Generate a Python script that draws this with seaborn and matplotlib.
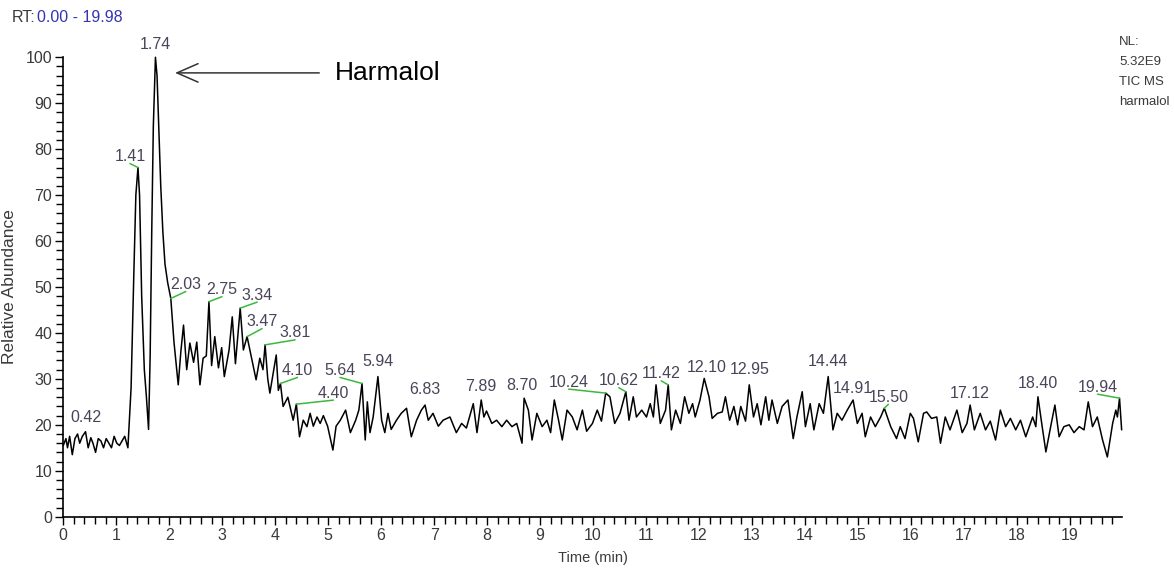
import numpy as np
import pandas as pd
import matplotlib
matplotlib.use("Agg")
import matplotlib.pyplot as plt
import seaborn as sns
from matplotlib.ticker import MultipleLocator

# chromatogram trace (time in min, relative abundance in %)
times = [
    0.00, 0.05, 0.08, 0.12, 0.17, 0.22, 0.27, 0.31, 0.36, 0.42, 0.47, 0.52, 0.56, 0.61,
    0.66, 0.71, 0.76, 0.81, 0.86, 0.91, 0.96, 1.01, 1.06, 1.11, 1.16, 1.22, 1.28, 1.33,
    1.37, 1.41, 1.44, 1.48, 1.53, 1.57, 1.61, 1.64, 1.67, 1.70, 1.74, 1.77, 1.80, 1.84,
    1.88, 1.92, 1.97, 2.03, 2.09, 2.17, 2.22, 2.27, 2.33, 2.39, 2.46, 2.52, 2.58, 2.64,
    2.70, 2.75, 2.80, 2.86, 2.93, 2.99, 3.04, 3.13, 3.19, 3.25, 3.30, 3.34, 3.40, 3.47,
    3.55, 3.64, 3.71, 3.77, 3.81, 3.86, 3.90, 3.96, 4.02, 4.06, 4.10, 4.15, 4.24, 4.34,
    4.40, 4.46, 4.53, 4.60, 4.66, 4.72, 4.79, 4.85, 4.91, 4.99, 5.09, 5.15, 5.23, 5.33,
    5.42, 5.52, 5.58, 5.64, 5.70, 5.74, 5.79, 5.85, 5.94, 6.01, 6.07, 6.13, 6.19, 6.29,
    6.38, 6.48, 6.57, 6.67, 6.76, 6.83, 6.89, 6.98, 7.08, 7.17, 7.30, 7.42, 7.52, 7.61,
    7.74, 7.81, 7.89, 7.94, 7.99, 8.09, 8.18, 8.28, 8.37, 8.47, 8.56, 8.66, 8.70, 8.78,
    8.85, 8.94, 9.04, 9.13, 9.20, 9.27, 9.35, 9.42, 9.51, 9.61, 9.70, 9.80, 9.88, 9.99,
    10.08, 10.16, 10.24, 10.32, 10.41, 10.51, 10.62, 10.68, 10.76, 10.82, 10.92, 11.01,
    11.08, 11.14, 11.19, 11.27, 11.37, 11.42, 11.48, 11.56, 11.65, 11.73, 11.81, 11.88,
    11.93, 12.02, 12.10, 12.19, 12.25, 12.35, 12.44, 12.50, 12.58, 12.66, 12.73, 12.79,
    12.88, 12.95, 13.03, 13.10, 13.17, 13.26, 13.32, 13.38, 13.48, 13.57, 13.68, 13.78,
    13.85, 13.95, 14.01, 14.10, 14.17, 14.27, 14.35, 14.44, 14.53, 14.61, 14.70, 14.80,
    14.91, 14.99, 15.08, 15.14, 15.24, 15.33, 15.43, 15.50, 15.62, 15.73, 15.80, 15.89,
    15.99, 16.05, 16.14, 16.24, 16.30, 16.39, 16.49, 16.56, 16.65, 16.74, 16.87, 16.97,
    17.06, 17.12, 17.20, 17.31, 17.41, 17.50, 17.60, 17.69, 17.79, 17.88, 17.98, 18.07,
    18.17, 18.30, 18.36, 18.40, 18.48, 18.55, 18.64, 18.72, 18.80, 18.89, 18.99, 19.08,
    19.18, 19.27, 19.35, 19.43, 19.52, 19.62, 19.71, 19.81, 19.87, 19.90, 19.94, 19.98,
]
abundance = [
    15.5, 17.0, 15.0, 17.5, 13.5, 17.0, 18.0, 16.0, 17.5, 18.5, 15.0, 17.2, 16.0, 14.0,
    17.0, 16.5, 15.0, 17.0, 16.0, 15.0, 17.5, 16.0, 15.5, 16.5, 17.5, 15.0, 28.0, 52.0,
    70.0, 76.0, 70.0, 48.0, 32.0, 26.0, 19.0, 35.0, 62.0, 85.0, 100.0, 96.0, 86.0, 72.0,
    62.0, 55.0, 51.0, 47.5, 38.0, 28.7, 36.0, 41.7, 32.0, 37.8, 33.6, 38.0, 28.7, 34.5,
    35.0, 46.8, 32.9, 39.2, 32.4, 36.8, 30.5, 36.3, 43.5, 33.3, 40.0, 45.4, 36.3, 39.2,
    34.8, 29.8, 34.5, 32.0, 37.4, 30.0, 26.9, 31.0, 35.2, 27.5, 29.0, 24.0, 26.0, 21.0,
    24.5, 17.4, 21.0, 19.6, 22.5, 19.7, 21.7, 20.3, 22.0, 19.7, 14.5, 19.7, 21.0, 23.2,
    18.3, 21.0, 23.2, 29.0, 16.7, 25.0, 18.3, 21.7, 30.5, 21.0, 18.3, 22.5, 19.0, 21.0,
    22.5, 23.6, 17.4, 21.0, 23.2, 24.3, 21.0, 22.5, 19.7, 21.0, 21.7, 18.3, 20.3, 19.3,
    24.6, 18.3, 25.4, 21.7, 23.0, 20.3, 21.0, 19.6, 21.0, 19.6, 20.3, 16.0, 25.8, 23.2,
    16.7, 22.5, 19.6, 21.0, 18.3, 25.4, 21.0, 16.7, 23.2, 21.7, 18.9, 23.2, 18.6, 20.3,
    23.2, 20.8, 26.9, 26.1, 20.3, 22.5, 27.2, 21.0, 26.1, 21.7, 23.2, 21.7,
    24.6, 21.7, 28.7, 20.3, 23.2, 28.7, 18.9, 23.2, 20.3, 26.1, 22.5, 24.6,
    21.7, 25.4, 30.1, 26.1, 21.4, 22.5, 22.8, 26.1, 21.0, 24.0, 20.0, 24.0,
    20.8, 28.7, 21.7, 24.6, 20.0, 26.1, 21.0, 25.4, 20.3, 24.0, 25.4, 17.0,
    21.7, 27.2, 19.6, 24.6, 18.9, 24.6, 22.5, 30.5, 18.9, 22.5, 21.0, 23.2,
    25.4, 20.3, 22.5, 17.4, 21.7, 19.6, 21.7, 23.6, 19.6, 17.0, 19.6, 17.0,
    22.5, 21.4, 16.3, 22.5, 22.8, 21.4, 21.7, 16.0, 21.7, 18.9, 23.2, 18.3,
    20.3, 24.3, 18.9, 22.5, 18.9, 20.8, 16.7, 23.2, 19.6, 21.4, 18.9, 21.0,
    17.4, 21.7, 19.6, 26.1, 19.6, 14.1, 19.6, 24.3, 17.4, 19.6, 20.0, 18.3,
    19.6, 18.9, 25.0, 19.6, 21.7, 16.7, 13.0, 20.3, 23.2, 21.7, 25.8, 18.9,
]

# labelled retention times
peak_rts = [0.42, 1.41, 1.74, 2.03, 2.75, 3.34, 3.47, 3.81, 4.10, 4.40, 5.64, 5.94,
            6.83, 7.89, 8.70, 10.24, 10.62, 11.42, 12.10, 12.95, 14.44, 14.91, 15.50,
            17.12, 18.40, 19.94]
peak_labels = [f"{rt:.2f}" for rt in peak_rts]

# label offsets from the apex (pixels) and whether a green leader line is drawn
label_dx = [0, -8, 0, 15, 13, 17, 15, 30, 17, 37, -22, 0, 0, 0, -2, -37, -7, -7, 2, 0, 0, 0, 4, 0, 0, -22]
label_dy = [14, 11, 13, 14, 12, 13, 15, 12, 13, 11, 13, 15, 16, 14, 13, 11, 11, 11, 11, 15, 15, 12, 11, 12, 13, 11]
has_line = [0, 1, 0, 1, 1, 1, 1, 1, 1, 1, 1, 0, 0, 0, 0, 1, 1, 1, 0, 0, 0, 0, 1, 0, 0, 1]

info_lines = ["NL:", "5.32E9", "TIC MS", "harmalol"]

df = pd.DataFrame({"time": times, "abundance": abundance})

sns.set_style("ticks")
plt.rcParams["font.family"] = ["Liberation Sans", "DejaVu Sans"]

TEXT = "#3a3a3a"
LABEL = "#4a4458"
GREEN = "#3cb83c"

fig = plt.figure(figsize=(11.74, 5.71), dpi=100)
ax = fig.add_axes([0.0539, 0.0951, 0.9015, 0.8046])

sns.lineplot(data=df, x="time", y="abundance", ax=ax, color="black",
             linewidth=1.1, estimator=None, sort=False)
for ln in ax.lines:
    ln.set_clip_on(False)

ax.set_xlim(0, 19.98)
ax.set_ylim(0, 100)
ax.xaxis.set_major_locator(MultipleLocator(1))
ax.xaxis.set_minor_locator(MultipleLocator(0.2))
ax.yaxis.set_major_locator(MultipleLocator(10))
ax.yaxis.set_minor_locator(MultipleLocator(2))
ax.set_xticks(np.arange(0, 20, 1))
ax.tick_params(axis="both", which="major", length=6, width=1, color="black",
               labelsize=11.5, labelcolor=TEXT, pad=2)
ax.tick_params(axis="both", which="minor", length=5, width=1, color="black")
sns.despine(ax=ax)
for side in ["left", "bottom"]:
    ax.spines[side].set_linewidth(1.2)
    ax.spines[side].set_color("black")

ax.set_xlabel("Time (min)", fontsize=10.5, color=TEXT, labelpad=6)
ax.set_ylabel("Relative Abundance", fontsize=12.5, color=TEXT, labelpad=6)

# peak labels with leader lines
for rt, lab, dx, dy, ln_on in zip(peak_rts, peak_labels, label_dx, label_dy, has_line):
    apex = np.interp(rt, times, abundance)
    ax.annotate(lab, xy=(rt, apex), xytext=(dx, dy), textcoords="offset pixels",
                ha="center", va="center", fontsize=11.5, color=LABEL, annotation_clip=False)
    if ln_on:
        ax.annotate("", xy=(rt, apex), xytext=(dx, dy - 7), textcoords="offset pixels",
                    annotation_clip=False,
                    arrowprops=dict(arrowstyle="-", color=GREEN, lw=1.1,
                                    shrinkA=0, shrinkB=0))

# main compound callout
ax.annotate("Harmalol", xy=(2.11, 96.6), xytext=(5.13, 96.6),
            ha="left", va="center", fontsize=19, color="black", annotation_clip=False,
            arrowprops=dict(arrowstyle="->,head_length=0.8,head_width=0.35",
                            color="#333333", lw=1.1, shrinkA=9, shrinkB=0))

# header and sidebar text
fig.text(12 / 1174, 1 - 17 / 571, "RT:", fontsize=11.5, color=TEXT, va="center", ha="left")
fig.text(37 / 1174, 1 - 17 / 571, "0.00 - 19.98", fontsize=11.5, color="#3434b0",
         va="center", ha="left")
for i, line in enumerate(info_lines):
    fig.text(1119 / 1174, 1 - (42 + 20 * i) / 571, line, fontsize=9.5, color=TEXT,
             va="center", ha="left")

fig.savefig("out.png", dpi=100)
